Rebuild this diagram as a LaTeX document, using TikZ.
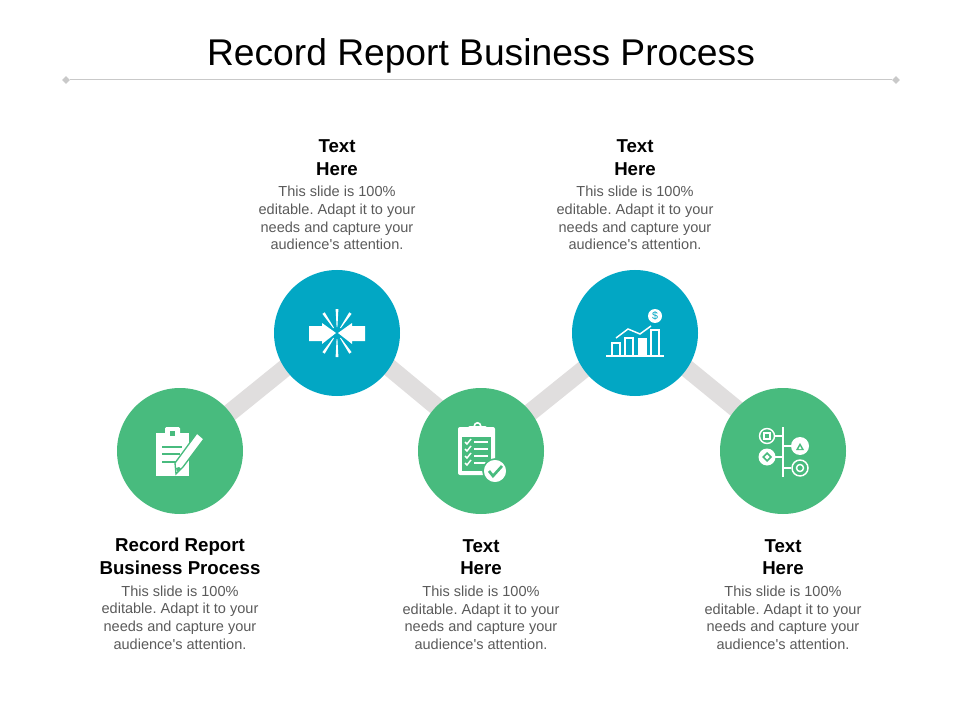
\documentclass[tikz,border=0pt]{standalone}
\usepackage{fontspec}
\setmainfont{Liberation Sans}
\usepackage{xcolor}
\usetikzlibrary{shapes.geometric,positioning,backgrounds,calc}
\definecolor{recgreen}{HTML}{48BB7E}
\definecolor{recblue}{HTML}{02A7C4}
\definecolor{reclink}{HTML}{E0DEDE}
\definecolor{recrule}{HTML}{C9C9C9}
\definecolor{rectext}{HTML}{5A5A5A}
\newcommand{\blurb}{This slide is 100\%\\editable. Adapt it to your\\needs and capture your\\audience\textquotesingle s attention.}

\begin{document}
\begin{tikzpicture}[
    x=0.75pt, y=-0.75pt,
    stepgreen/.style={circle, fill=recgreen, minimum size=94.5pt, inner sep=0pt},
    stepblue/.style={circle, fill=recblue, minimum size=94.5pt, inner sep=0pt},
    head/.style={font=\fontsize{14}{16.9}\selectfont\bfseries, text=black, align=center, inner sep=0pt},
    desc/.style={font=\fontsize{10.9}{13.25}\selectfont\frenchspacing, text=rectext, align=center, inner sep=0pt},
    bar/.style={draw=reclink, line width=13.3pt},
    endmark/.style={diamond, fill=recrule, minimum size=6pt, inner sep=0pt},
    ink/.style={fill=white, draw=none},
    wire/.style={draw=white, line width=1.1pt, fill=none}
]
    \useasboundingbox (0,0) rectangle (960,720);

    % Title
    \node (title) [font=\fontsize{27.9}{32}\selectfont, text=black, inner sep=0pt] at (481,55.5) {Record Report Business Process};
    \node (ruleL) [endmark] at (66,80) {};
    \node (ruleR) [endmark] at (896,80) {};
    \draw [draw=recrule, line width=0.75pt] (ruleL) -- (ruleR);

    % Nodes
    \node (s1) [stepgreen] at (180,451) {};
    \node (s2) [stepblue] at (337,333) {};
    \node (s3) [stepgreen] at (481,451) {};
    \node (s4) [stepblue] at (635,333) {};
    \node (s5) [stepgreen] at (783,451) {};

    % Connectors
    \begin{scope}[on background layer]
        \draw [bar] ($(s1.center)+(0,2)$) -- ($(s2.center)+(0,-7)$);
        \draw [bar] ($(s2.center)+(0,-9)$) -- ($(s3.center)+(0,-7.5)$);
        \draw [bar] ($(s3.center)+(0,1)$) -- ($(s4.center)+(0,-5)$);
        \draw [bar] ($(s4.center)+(0,-7)$) -- ($(s5.center)+(0,-4)$);
    \end{scope}

    % Labels
    \node (d2) [desc, above=14.5pt of s2] {\blurb};
    \node (h2) [head, above=8pt of d2] {Text\\Here};
    \node (d4) [desc, above=14.5pt of s4] {\blurb};
    \node (h4) [head, above=8pt of d4] {Text\\Here};
    \node (h1) [head, below=17.8pt of s1] {Record Report\\Business Process};
    \node (d1) [desc, below=8pt of h1] {\blurb};
    \node (h3) [head, below=18.5pt of s3] {Text\\Here};
    \node (d3) [desc, below=8pt of h3] {\blurb};
    \node (h5) [head, below=18.5pt of s5] {Text\\Here};
    \node (d5) [desc, below=8pt of h5] {\blurb};

    % Icon 1: clipboard and pencil
    \begin{scope}[shift={(s1.center)}]
        \fill [ink] (-24,-18) rectangle (9,25);
        \fill [ink, rounded corners=1pt] (-15,-24) rectangle (0,-11);
        \fill [recgreen] (-10,-20) rectangle (-5,-15);
        \draw [draw=recgreen, line width=2pt] (-18,-4) -- (2,-4) (-18,3) -- (0,3) (-18,11) -- (-4,11);
        \fill [ink, draw=recgreen, line width=1pt] (17,-18) -- (24,-12) -- (3,16) -- (-4,23) -- (-5,12) -- cycle;
        \fill [recgreen] (-1,16) -- (1,18) -- (-3,21) -- (-4,17) -- cycle;
    \end{scope}

    % Icon 2: arrows pressing inward
    \begin{scope}[shift={(s2.center)}]
        \fill [ink] (-28,-7) -- (-15,-7) -- (-15,-10) -- (-1,0) -- (-15,11) -- (-15,8) -- (-28,8) -- cycle;
        \fill [ink] (28,-7) -- (15,-7) -- (15,-10) -- (1,0) -- (15,11) -- (15,8) -- (28,8) -- cycle;
        \foreach \ang in {-90,-56,-124,90,56,124}
            \fill [ink, rotate=\ang] (6,-0.4) -- (6,0.4) -- (24,1.4) -- (24,-1.4) -- cycle;
    \end{scope}

    % Icon 3: checklist with tick
    \begin{scope}[shift={(s3.center)}]
        \fill [ink, rounded corners=1.5pt] (-23,-24) rectangle (14,24);
        \fill [recgreen] (-19,-14) rectangle (10,20);
        \fill [ink, rounded corners=1.5pt] (-13,-25) rectangle (6,-18);
        \draw [wire, line width=1.2pt] (-3.5,-25) circle (3.2);
        \foreach \yy in {-9,-2,5,12} {
            \draw [wire] (-16,\yy) -- (-14,\yy+2) -- (-10,\yy-3);
            \draw [wire, line width=1.3pt] (-7,\yy) -- (7,\yy);
        }
        \fill [ink, draw=recgreen, line width=1.2pt] (14,20) circle (12);
        \draw [draw=recgreen, line width=2pt] (8,20) -- (12,25) -- (21,15);
    \end{scope}

    % Icon 4: bars with dollar
    \begin{scope}[shift={(s4.center)}]
        \draw [wire] (-29,23) -- (29,23);
        \draw [wire] (-23,23) -- (-23,10) -- (-15,10) -- (-15,23);
        \draw [wire] (-10,23) -- (-10,5) -- (-2,5) -- (-2,23);
        \fill [ink] (3,5) rectangle (12,23);
        \draw [wire] (16,23) -- (16,-3) -- (24,-3) -- (24,23);
        \draw [wire] (-19,5) -- (-7,-4) -- (5,1) -- (16,-7);
        \node (dollar) [circle, fill=white, text=recblue, minimum size=10.5pt, inner sep=0pt, font=\fontsize{8}{8}\selectfont] at (20,-17) {\$};
    \end{scope}

    % Icon 5: tree of shapes
    \begin{scope}[shift={(s5.center)}]
        \draw [wire] (0,-24) -- (0,26);
        \draw [wire] (-8,-15) -- (0,-15) (0,-5) -- (8,-5) (-8,6) -- (0,6) (0,17) -- (8,17);
        \draw [wire] (-16,-15) circle (7.5);
        \draw [wire] (-19,-18) rectangle (-13,-12);
        \fill [ink] (17,-5) circle (9);
        \fill [recgreen] (13,-1) -- (21,-1) -- (17,-8) -- cycle;
        \fill [white] (15.5,-2) -- (18.5,-2) -- (17,-5) -- cycle;
        \fill [ink] (-16,6) circle (8.5);
        \fill [recgreen] (-21,6) -- (-16,1) -- (-11,6) -- (-16,11) -- cycle;
        \fill [white] (-18.5,6) -- (-16,3.5) -- (-13.5,6) -- (-16,8.5) -- cycle;
        \draw [wire] (17,17) circle (8);
        \draw [wire] (17,17) circle (3.5);
    \end{scope}
\end{tikzpicture}
\end{document}
